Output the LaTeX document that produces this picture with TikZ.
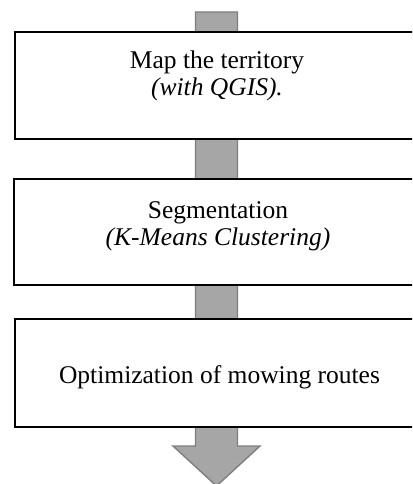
\documentclass[tikz,border=0pt]{standalone}
\usepackage{fontspec}
\setmainfont{Liberation Serif}
\begin{document}
\begin{tikzpicture}[x=1pt,y=-1pt,
  stagebox/.style={draw=black,line width=1.1pt,fill=white,rectangle,inner sep=0pt},
  stagetext/.style={font=\fontsize{25.5}{27.5}\selectfont,anchor=base,align=center,inner sep=0pt},
  flowarrow/.style={fill=arrowfill,draw=arrowline,line width=1.4pt,line join=miter}]
\definecolor{arrowfill}{HTML}{A6A6A6}
\definecolor{arrowline}{HTML}{7F7F7F}
\useasboundingbox (0,0) rectangle (412,484);
\begin{scope}
\clip (0,0) rectangle (412,484);
% block arrow behind the boxes
\draw[flowarrow] (195.5,12) -- (237.5,12) -- (237.5,446) -- (260,446) -- (216.5,486)
  -- (173,446) -- (195.5,446) -- cycle;
% boxes
\node[stagebox,minimum width=405pt,minimum height=107pt] (b1) at (217.5,85.5) {};
\node[stagebox,minimum width=406pt,minimum height=106pt] (b2) at (217,232) {};
\node[stagebox,minimum width=405pt,minimum height=108pt] (b3) at (217.5,373) {};
\end{scope}
% texts
\node[stagetext] (t1a) at (217,68.5) {Map the territory};
\node[stagetext] (t1b) at (217,95.5) {\textit{(with QGIS).}};
\node[stagetext] (t2a) at (218,218) {Segmentation};
\node[stagetext] (t2b) at (218,245) {\textit{(K-Means Clustering)}};
\node[stagetext] (t3) at (219.5,383.5) {Optimization of mowing routes};
\end{tikzpicture}
\end{document}
